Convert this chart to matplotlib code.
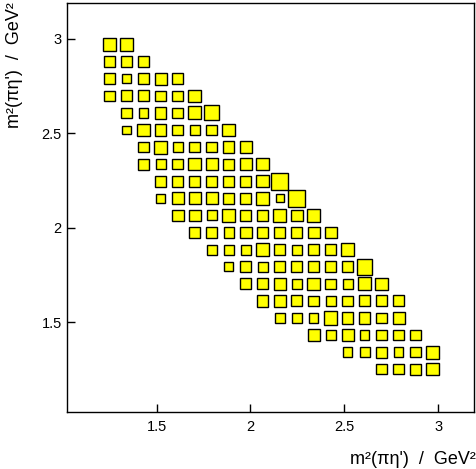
import matplotlib
matplotlib.use("Agg")
import matplotlib.pyplot as plt
import numpy as np

plt.rcParams['font.family'] = ['Liberation Sans', 'DejaVu Sans']

# 20x20 histogram binning in m^2 (GeV^2)
bin_edges = np.linspace(1.205, 3.015, 21)

# first occupied column of each row, top row first
row_first_col = [0, 0, 0, 0, 1, 1, 2, 2, 3, 3, 4, 5, 6, 7, 8, 9, 10, 12, 14, 16]

# relative bin contents (box size), top row first
row_content = [
    [38, 38],
    [34, 32, 32],
    [32, 28, 32, 36, 34],
    [32, 34, 34, 32, 32, 38],
    [32, 28, 34, 32, 40, 46],
    [26, 38, 34, 32, 30, 32, 38],
    [32, 40, 30, 32, 32, 34, 36],
    [34, 30, 32, 38, 36, 34, 36, 38],
    [32, 32, 32, 32, 34, 34, 38, 52],
    [28, 36, 36, 36, 33, 33, 38, 24, 50],
    [36, 36, 30, 38, 32, 32, 40, 36, 38],
    [32, 32, 31, 36, 32, 32, 32, 36, 36],
    [30, 30, 30, 38, 32, 30, 32, 32, 38],
    [28, 34, 31, 34, 32, 34, 32, 32, 48],
    [34, 34, 36, 30, 38, 32, 30, 40, 38],
    [35, 37, 33, 32, 31, 32, 33, 34, 34],
    [30, 30, 28, 41, 34, 34, 32, 36],
    [36, 31, 36, 28, 33, 32, 32],
    [28, 30, 34, 28, 32, 40],
    [32, 32, 34, 38],
]

tick_vals = [1.5, 2, 2.5, 3]
axis_label = "m²(πη')  /  GeV²"

centers = 0.5 * (bin_edges[:-1] + bin_edges[1:])
bin_w = bin_edges[1] - bin_edges[0]
nrows = len(bin_edges) - 1
cmax = max(max(r) for r in row_content)

xs, ys, sides = [], [], []
for r, (c0, vals) in enumerate(zip(row_first_col, row_content)):
    for k, v in enumerate(vals):
        xs.append(centers[c0 + k])
        ys.append(centers[nrows - 1 - r])
        sides.append(bin_w * v / cmax)
xs = np.array(xs)
ys = np.array(ys)
sides = np.array(sides)

fig = plt.figure(figsize=(4.76, 4.69), dpi=100)
ax = fig.add_axes([67.3 / 476, 1 - 411.7 / 469, (474 - 67.3) / 476, (411.7 - 3) / 469])

ax.bar(xs, sides, width=sides, bottom=ys - sides / 2, align='center',
       color='#ffff00', edgecolor='black', linewidth=1.0)

ax.set_xlim(1.025, 3.19)
ax.set_ylim(1.025, 3.19)
ax.set_xticks(tick_vals)
ax.set_yticks(tick_vals)
ax.set_xticklabels(['1.5', '2', '2.5', '3'])
ax.set_yticklabels(['1.5', '2', '2.5', '3'])
ax.tick_params(direction='in', length=6, width=1, labelsize=10.5)
ax.tick_params(axis='x', pad=6)
ax.tick_params(axis='y', pad=4)
for s in ax.spines.values():
    s.set_linewidth(1.0)
    s.set_color('black')

fig.text(0.999, 10 / 469, axis_label, ha='right', va='center', fontsize=13)
fig.text(15 / 476, 1 - 2 / 469, axis_label, ha='center', va='top',
         rotation=90, fontsize=13)

fig.savefig('out.png', dpi=100)
